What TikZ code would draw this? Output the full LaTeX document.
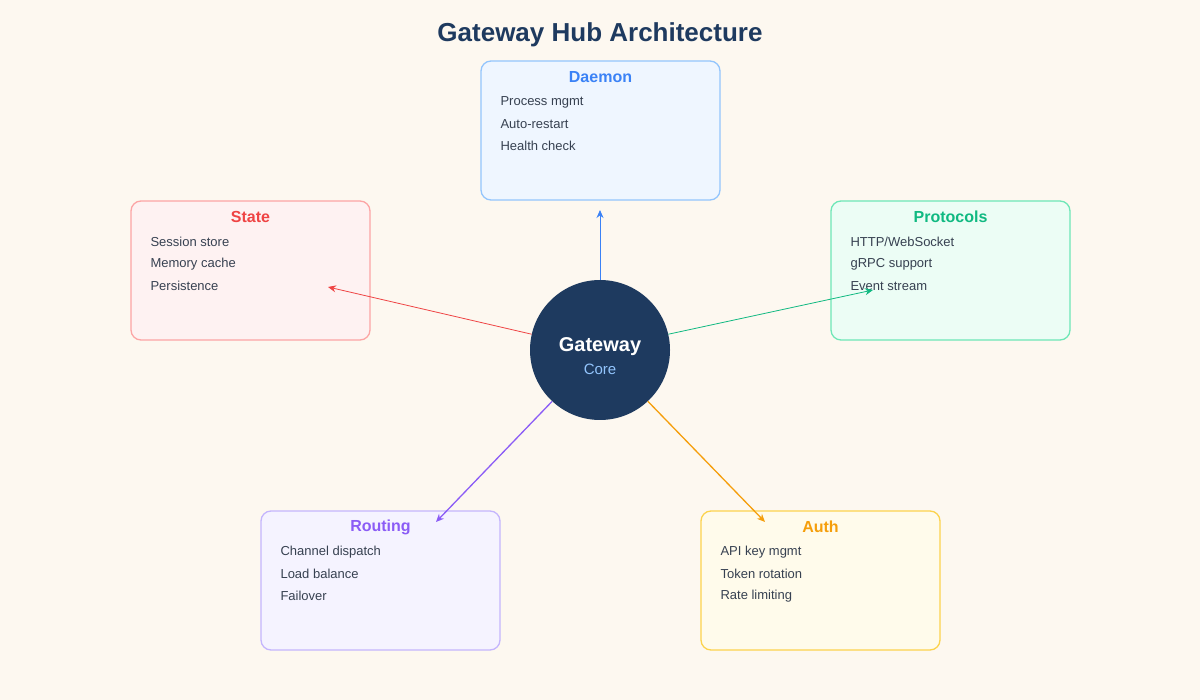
\documentclass[tikz,border=0pt]{standalone}
\usepackage{fontspec}
\setmainfont{Liberation Sans}
\usetikzlibrary{arrows.meta}
\definecolor{bg}{HTML}{FDF8F0}
\definecolor{navy}{HTML}{1E3A5F}
\definecolor{dB}{HTML}{93C5FD}\definecolor{dF}{HTML}{EFF6FF}\definecolor{dT}{HTML}{3B82F6}
\definecolor{sB}{HTML}{FCA5A5}\definecolor{sF}{HTML}{FEF2F2}\definecolor{sT}{HTML}{EF4444}
\definecolor{pB}{HTML}{6EE7B7}\definecolor{pF}{HTML}{ECFDF5}\definecolor{pT}{HTML}{10B981}
\definecolor{rB}{HTML}{C4B5FD}\definecolor{rF}{HTML}{F5F3FF}\definecolor{rT}{HTML}{8B5CF6}
\definecolor{aB}{HTML}{FCD34D}\definecolor{aF}{HTML}{FFFBEB}\definecolor{aT}{HTML}{F59E0B}
\definecolor{txt}{HTML}{374151}
\begin{document}
\begin{tikzpicture}[x=1pt,y=-1pt,
  box/.style={draw,line width=1.3pt,rounded corners=10pt,minimum width=239pt,minimum height=139pt,inner sep=0pt},
  btitle/.style={font=\fontsize{16}{16}\selectfont\bfseries,anchor=center},
  item/.style={font=\fontsize{13}{13}\selectfont,text=txt,anchor=west},
  arr/.style={-{Stealth[length=8pt,width=7pt]},line width=1pt}]
\fill[bg] (0,0) rectangle (1200,700);
\useasboundingbox (0,0) rectangle (1200,700);
\node[font=\fontsize{26}{26}\selectfont\bfseries,text=navy] (title) at (600,35) {Gateway Hub Architecture};
\newcommand{\mybox}[7]{%
  \node[box,draw=#2B,fill=#2F] (#1) at (#3+119.5,#4+69.5) {};
  \node[btitle,text=#2T] (#1t) at (#3+119.5,#4+16) {#5};
  \node[item] (#1a) at (#3+16,#4+41) {#6};
  #7}
\mybox{daemon}{d}{481}{61}{Daemon}{Process mgmt}{\node[item] at (497,124){Auto-restart};\node[item] at (497,146){Health check};}
\mybox{state}{s}{131}{201}{State}{Session store}{\node[item] at (147,264){Memory cache};\node[item] at (147,286){Persistence};}
\mybox{proto}{p}{831}{201}{Protocols}{HTTP/WebSocket}{\node[item] at (847,264){gRPC support};\node[item] at (847,286){Event stream};}
\mybox{routing}{r}{261}{511}{Routing}{Channel dispatch}{\node[item] at (277,574){Load balance};\node[item] at (277,596){Failover};}
\mybox{auth}{a}{701}{511}{Auth}{API key mgmt}{\node[item] at (717,574){Token rotation};\node[item] at (717,596){Rate limiting};}
\node[circle,fill=navy,minimum size=140pt,inner sep=0pt] (core) at (600,350) {};
\node[font=\fontsize{20}{20}\selectfont\bfseries,text=white] (g) at (600,347) {Gateway};
\node[font=\fontsize{15}{15}\selectfont,text=dB] (c) at (600,369) {Core};
\coordinate (eD) at (600,210);\coordinate (eS) at (328,287);\coordinate (eP) at (873,290);
\coordinate (eR) at (436,522);\coordinate (eA) at (765,522);
\draw[arr,dT] (core.90) -- (eD);
\draw[arr,sT,line width=0.8pt] (core.167) -- (eS);
\draw[arr,pT,line width=0.8pt] (core.13) -- (eP);
\draw[arr,rT,line width=1.3pt] (core.-133) -- (eR);
\draw[arr,aT,line width=1.3pt] (core.-47) -- (eA);
\end{tikzpicture}
\end{document}
